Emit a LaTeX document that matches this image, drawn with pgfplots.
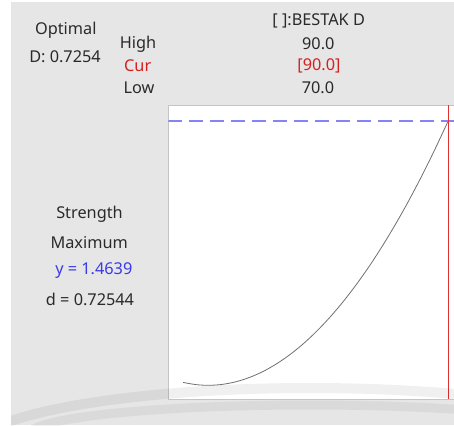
\documentclass[border=0pt]{standalone}
\usepackage{pgfplots}
\pgfplotsset{compat=1.18}
\usepackage{fontspec}
\setmainfont{Noto Sans}
\definecolor{bg}{HTML}{E6E6E6}
\definecolor{boxc}{HTML}{C4C4C4}
\definecolor{curvec}{HTML}{707070}
\definecolor{dashc}{HTML}{8484F6}
\definecolor{redc}{HTML}{E03030}
\definecolor{redt}{HTML}{D42020}
\definecolor{bluet}{HTML}{3A3AE8}
\definecolor{txt}{HTML}{2A2A2A}
\pgfplotstableread{
x y
70 0.6787
71 0.6720
72 0.6701
73 0.6731
74 0.6809
75 0.6936
76 0.7110
77 0.7334
78 0.7605
79 0.7925
80 0.8294
81 0.8711
82 0.9176
83 0.9690
84 1.0251
85 1.0862
86 1.1521
87 1.2228
88 1.2984
89 1.3788
90 1.4639
}\strengthdata
\begin{document}
\begin{tikzpicture}[x=1pt,y=1pt]
\clip (0,0) rectangle (454,425);
\fill[white] (0,0) rectangle (454,425);
\fill[bg] (11,0) rectangle (454,423);
\begin{axis}[
  at={(168.3pt,26pt)}, anchor=south west,
  scale only axis, width=287.7pt, height=293.7pt,
  xmin=68.883, xmax=90.58, ymin=0.6290, ymax=1.5101,
  xtick=\empty, ytick=\empty,
  axis background/.style={fill=white},
  axis line style={boxc, line width=0.8pt},
  clip=true,
]
\addplot[curvec, line width=0.8pt, smooth] table[x=x,y=y] {\strengthdata};
\addplot[dashc, line width=1.9pt, dash pattern=on 14pt off 7pt] coordinates {(68.883,1.4639) (90.58,1.4639)};
\addplot[redc, line width=1pt] coordinates {(90,0.6290) (90,1.5101)};
\end{axis}
% watermark arcs
\begin{scope}
\clip (11,0) rectangle (454,423);
\draw[black, opacity=0.06, line width=10pt] (310,-26) ellipse [x radius=340, y radius=63];
\draw[black, opacity=0.05, line width=9pt] (310,-9) ellipse [x radius=280, y radius=29];
\end{scope}
\begin{scope}[every node/.style={font=\fontsize{16.3}{19}\selectfont, text=txt, inner sep=0pt}]
\node at (65.8,395) {Optimal};
\node at (65,368) {D: 0.7254};
\node at (138,381) {High};
\node[text=redt] at (137.7,359) {Cur};
\node at (139,337) {Low};
\node at (318.7,404) {[ ]:BESTAK D};
\node at (318.3,381) {90.0};
\node[text=redt] at (319,359) {[90.0]};
\node at (318,337) {70.0};
\node at (89.5,211) {Strength};
\node at (89.2,182.7) {Maximum};
\node[text=bluet] at (93.8,154) {y = 1.4639};
\node at (90,125.7) {d = 0.72544};
\end{scope}
\end{tikzpicture}
\end{document}
